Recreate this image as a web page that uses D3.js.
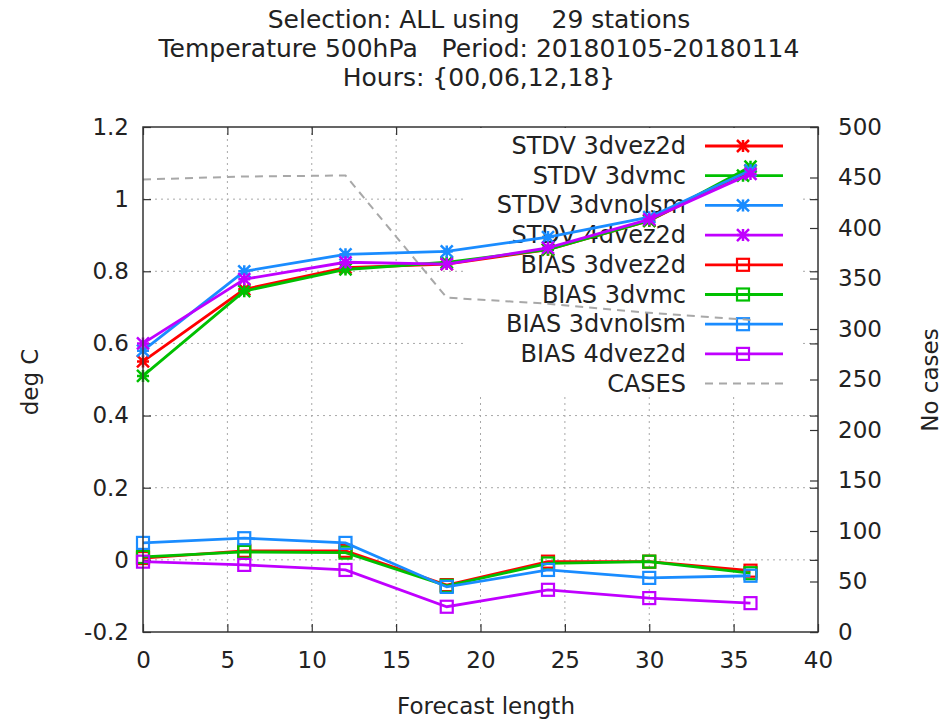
<!DOCTYPE html>
<html>
<head>
<meta charset="utf-8">
<script src="https://cdn.jsdelivr.net/npm/d3@7"></script>
<style>
  body { margin: 0; background: #fff; }
  text { font-family: "DejaVu Sans", sans-serif; fill: #222; white-space: pre; }
</style>
</head>
<body>
<div id="chart"></div>
<script>
// forecast lengths (hours)
const fcLengths = [0, 6, 12, 18, 24, 30, 36];

const stdv3dvez2d  = [0.55, 0.75, 0.81, 0.82, 0.86, 0.94, 1.08];
const stdv3dvmc    = [0.51, 0.745, 0.805, 0.825, 0.86, 0.94, 1.09];
const stdv3dvnolsm = [0.58, 0.80, 0.847, 0.855, 0.895, 0.95, 1.08];
const stdv4dvez2d  = [0.60, 0.778, 0.825, 0.82, 0.865, 0.944, 1.07];

const bias3dvez2d  = [0.005, 0.025, 0.025, -0.07, -0.005, -0.005, -0.03];
const bias3dvmc    = [0.008, 0.022, 0.02, -0.072, -0.01, -0.005, -0.037];
const bias3dvnolsm = [0.047, 0.06, 0.047, -0.075, -0.028, -0.05, -0.044];
const bias4dvez2d  = [-0.005, -0.014, -0.028, -0.13, -0.083, -0.106, -0.12];

const cases = [448, 451, 452, 331, 325, 316, 309];

const xTicks = [0, 5, 10, 15, 20, 25, 30, 35, 40];
const yTicks = [-0.2, 0, 0.2, 0.4, 0.6, 0.8, 1, 1.2];
const y2Ticks = [0, 50, 100, 150, 200, 250, 300, 350, 400, 450, 500];

const titleLines = [
    "Selection: ALL using    29 stations",
    "Temperature 500hPa   Period: 20180105-20180114",
    "Hours: {00,06,12,18}"
];

const series = [
    {name: "STDV 3dvez2d",  values: stdv3dvez2d,  color: "#ff0000", mark: "star"},
    {name: "STDV 3dvmc",    values: stdv3dvmc,    color: "#00c000", mark: "star"},
    {name: "STDV 3dvnolsm", values: stdv3dvnolsm, color: "#1a8cff", mark: "star"},
    {name: "STDV 4dvez2d",  values: stdv4dvez2d,  color: "#c000ff", mark: "star"},
    {name: "BIAS 3dvez2d",  values: bias3dvez2d,  color: "#ff0000", mark: "square"},
    {name: "BIAS 3dvmc",    values: bias3dvmc,    color: "#00c000", mark: "square"},
    {name: "BIAS 3dvnolsm", values: bias3dvnolsm, color: "#1a8cff", mark: "square"},
    {name: "BIAS 4dvez2d",  values: bias4dvez2d,  color: "#c000ff", mark: "square"}
];

const width = 944, height = 720;
const pLeft = 143, pRight = 818, pTop = 127, pBottom = 632;

const svg = d3.select("#chart").append("svg")
    .attr("width", width)
    .attr("height", height);

const x = d3.scaleLinear().domain([0, 40]).range([pLeft, pRight]);
const y = d3.scaleLinear().domain([-0.2, 1.2]).range([pBottom, pTop]);
const y2 = d3.scaleLinear().domain([0, 500]).range([pBottom, pTop]);

// title
svg.append("g").selectAll("text")
    .data(titleLines)
    .join("text")
    .attr("x", 479)
    .attr("y", (d, i) => 28 + i * 29)
    .attr("text-anchor", "middle")
    .attr("xml:space", "preserve")
    .style("font-size", "25px")
    .text(d => d);

// grid
const grid = svg.append("g")
    .attr("stroke", "#a8a8a8")
    .attr("stroke-width", 1)
    .attr("stroke-dasharray", "2,4");
grid.selectAll("line.gx")
    .data(xTicks.slice(1, -1))
    .join("line")
    .attr("class", "gx")
    .attr("x1", d => x(d)).attr("x2", d => x(d))
    .attr("y1", pTop).attr("y2", pBottom);
grid.selectAll("line.gy")
    .data(yTicks.slice(1, -1))
    .join("line")
    .attr("class", "gy")
    .attr("x1", pLeft).attr("x2", pRight)
    .attr("y1", d => y(d)).attr("y2", d => y(d));

// axes (ticks inward, mirrored)
const tickLen = 8;
const axisX = d3.axisBottom(x).tickValues(xTicks).tickSize(tickLen).tickFormat(d3.format("d"));
const axisXTop = d3.axisTop(x).tickValues(xTicks).tickSize(tickLen).tickFormat("");
const axisY = d3.axisLeft(y).tickValues(yTicks).tickSize(tickLen).tickFormat(d => String(+d.toFixed(1)));
const axisYRight = d3.axisRight(y).tickValues(yTicks).tickSize(tickLen).tickFormat("");
const axisY2 = d3.axisRight(y2).tickValues(y2Ticks).tickSize(tickLen).tickFormat(d3.format("d"));

function styleAxis(g) {
    g.select(".domain").remove();
    g.selectAll(".tick line").attr("stroke", "#333").attr("stroke-width", 1.2);
    g.selectAll(".tick text").style("font-size", "23px").attr("fill", "#222");
}

svg.append("g").attr("transform", `translate(0,${pBottom - tickLen})`).call(axisX)
    .call(styleAxis)
    .call(g => g.selectAll(".tick text").attr("y", tickLen + 20));
svg.append("g").attr("transform", `translate(0,${pTop + tickLen})`).call(axisXTop).call(styleAxis);
svg.append("g").attr("transform", `translate(${pLeft + tickLen},0)`).call(axisY)
    .call(styleAxis)
    .call(g => g.selectAll(".tick text").attr("x", -tickLen - 14));
svg.append("g").attr("transform", `translate(${pRight - tickLen},0)`).call(axisYRight).call(styleAxis);
svg.append("g").attr("transform", `translate(${pRight - tickLen},0)`).call(axisY2)
    .call(styleAxis)
    .call(g => g.selectAll(".tick text").attr("x", tickLen + 20));

// axis titles
svg.append("text")
    .attr("transform", "translate(38,382) rotate(-90)")
    .attr("text-anchor", "middle")
    .style("font-size", "23px")
    .text("deg C");
svg.append("text")
    .attr("transform", "translate(938,380) rotate(-90)")
    .attr("text-anchor", "middle")
    .style("font-size", "23px")
    .text("No cases");
svg.append("text")
    .attr("x", 486).attr("y", 714)
    .attr("text-anchor", "middle")
    .style("font-size", "23px")
    .text("Forecast length");

// legend box (opaque, under the data)
svg.append("rect")
    .attr("x", 467).attr("y", pTop + 1)
    .attr("width", 333).attr("height", 268)
    .attr("fill", "#fff");

const legendItems = series.map(s => ({name: s.name, color: s.color, mark: s.mark}))
    .concat([{name: "CASES", color: "#a8a8a8", mark: "none"}]);
const legY = i => 146 + i * 29.7;

function drawMark(g, type, color, cx, cy) {
    if (type === "star") {
        const r = 6;
        g.append("path")
            .attr("d", `M${cx - r},${cy}H${cx + r}M${cx},${cy - r}V${cy + r}` +
                       `M${cx - r},${cy - r}L${cx + r},${cy + r}M${cx - r},${cy + r}L${cx + r},${cy - r}`)
            .attr("stroke", color).attr("stroke-width", 2.5).attr("fill", "none");
    } else if (type === "square") {
        const r = 6;
        g.append("rect")
            .attr("x", cx - r).attr("y", cy - r)
            .attr("width", 2 * r).attr("height", 2 * r)
            .attr("stroke", color).attr("stroke-width", 2.2).attr("fill", "none");
    }
}

const legend = svg.append("g");
legendItems.forEach((d, i) => {
    legend.append("text")
        .attr("x", 686).attr("y", legY(i) + 8)
        .attr("text-anchor", "end")
        .style("font-size", "24px")
        .text(d.name);
    const line = legend.append("line")
        .attr("x1", 705).attr("x2", 783)
        .attr("y1", legY(i)).attr("y2", legY(i))
        .attr("stroke", d.color)
        .attr("stroke-width", d.mark === "none" ? 2 : 2.8);
    if (d.mark === "none") line.attr("stroke-dasharray", "8,6");
    drawMark(legend, d.mark, d.color, 743, legY(i));
});

// cases line (right axis)
const lineCases = d3.line().x((d, i) => x(fcLengths[i])).y(d => y2(d));
svg.append("path")
    .datum(cases)
    .attr("d", lineCases)
    .attr("fill", "none")
    .attr("stroke", "#a8a8a8")
    .attr("stroke-width", 2)
    .attr("stroke-dasharray", "8,6");

// data series
const lineGen = d3.line().x((d, i) => x(fcLengths[i])).y(d => y(d));
series.forEach(s => {
    const g = svg.append("g");
    g.append("path")
        .datum(s.values)
        .attr("d", lineGen)
        .attr("fill", "none")
        .attr("stroke", s.color)
        .attr("stroke-width", 2.8);
    s.values.forEach((v, i) => drawMark(g, s.mark, s.color, x(fcLengths[i]), y(v)));
});

// frame
svg.append("rect")
    .attr("x", pLeft).attr("y", pTop)
    .attr("width", pRight - pLeft).attr("height", pBottom - pTop)
    .attr("fill", "none")
    .attr("stroke", "#333")
    .attr("stroke-width", 1.5);
</script>
</body>
</html>
